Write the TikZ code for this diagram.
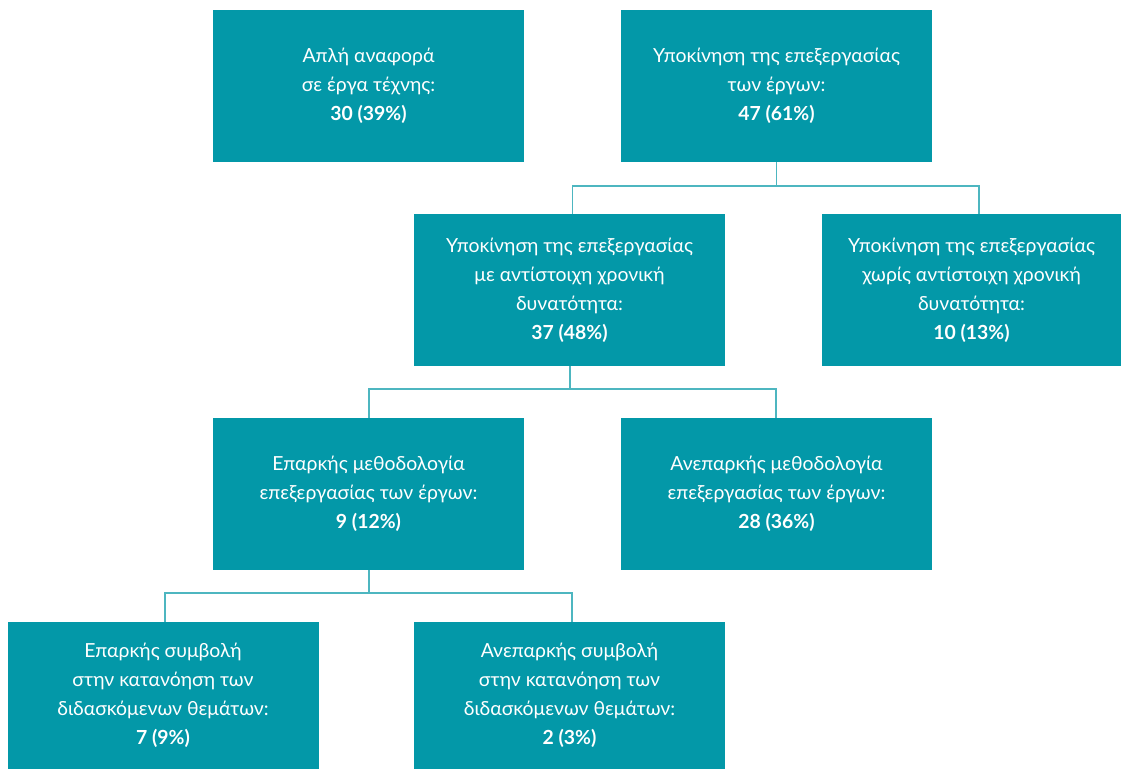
\documentclass[tikz,border=0pt]{standalone}
\usepackage{fontspec}
\setmainfont{Lato}
\usetikzlibrary{calc}
\definecolor{boxc}{HTML}{0398A8}
\definecolor{linec}{HTML}{4DB6C0}
\begin{document}
\begin{tikzpicture}[x=1pt,y=-1pt,
  box/.style={fill=boxc,draw=none,minimum width=311pt,minimum height=152pt,align=center,text=white,font=\fontsize{19.4}{29}\selectfont,inner sep=0pt},
  conn/.style={draw=linec,line width=1.8pt}]
\useasboundingbox (0,0) rectangle (1121,769);
\node[box] (A) at (368.5,86) {Απλή αναφορά\\σε έργα τέχνης:\\\textbf{30 (39\%)}};
\node[box] (B) at (776.5,86) {Υποκίνηση της επεξεργασίας\\των έργων:\\\textbf{47 (61\%)}};
\node[box] (C) at (569.5,290) {Υποκίνηση της επεξεργασίας\\με αντίστοιχη χρονική\\δυνατότητα:\\\textbf{37 (48\%)}};
\node[box,minimum width=299pt] (D) at (971.5,290) {Υποκίνηση της επεξεργασίας\\χωρίς αντίστοιχη χρονική\\δυνατότητα:\\\textbf{10 (13\%)}};
\node[box] (E) at (368.5,494) {Επαρκής μεθοδολογία\\επεξεργασίας των έργων:\\\textbf{9 (12\%)}};
\node[box] (F) at (776.5,494) {Ανεπαρκής μεθοδολογία\\επεξεργασίας των έργων:\\\textbf{28 (36\%)}};
\node[box,minimum height=147pt] (G) at (163,695.5) {Επαρκής συμβολή\\στην κατανόηση των\\διδασκόμενων θεμάτων:\\\textbf{7 (9\%)}};
\node[box,minimum height=147pt] (H) at (569.5,695.5) {Ανεπαρκής συμβολή\\στην κατανόηση των\\διδασκόμενων θεμάτων:\\\textbf{2 (3\%)}};
\draw[conn] (B.south) -- ++(0,24) coordinate (b1);
\draw[conn] (b1) -| ([xshift=3pt]C.north);
\draw[conn] (b1) -| ([xshift=7.5pt]D.north);
\draw[conn] ([xshift=0.5pt]C.south) -- ++(0,23) coordinate (c1);
\draw[conn] (c1) -| ([xshift=0.5pt]E.north);
\draw[conn] (c1) -| ([xshift=-0.5pt]F.north);
\draw[conn] ([xshift=0.5pt]E.south) -- ++(0,23) coordinate (e1);
\draw[conn] (e1) -| ([xshift=2pt]G.north);
\draw[conn] (e1) -| ([xshift=2.5pt]H.north);
\end{tikzpicture}
\end{document}
